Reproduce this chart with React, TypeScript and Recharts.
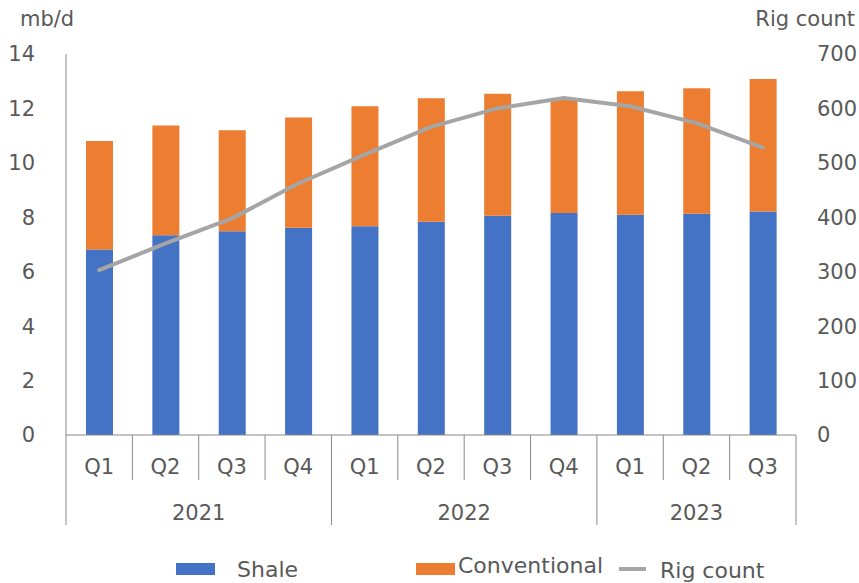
import React from "react"
import { ComposedChart, Bar, Line, XAxis, YAxis } from "recharts"

const quarters = ["Q1", "Q2", "Q3", "Q4", "Q1", "Q2", "Q3", "Q4", "Q1", "Q2", "Q3"]
const years = ["2021", "2021", "2021", "2021", "2022", "2022", "2022", "2022", "2023", "2023", "2023"]
const shale = [6.82, 7.34, 7.49, 7.62, 7.67, 7.84, 8.06, 8.16, 8.09, 8.13, 8.21]
const conventional = [3.98, 4.03, 3.71, 4.05, 4.41, 4.53, 4.48, 4.19, 4.54, 4.61, 4.87]
const rigCount = [303, 352, 398, 462, 515, 566, 600, 619, 604, 573, 528]
const leftTicks = [0, 2, 4, 6, 8, 10, 12, 14]
const rightTicks = [0, 100, 200, 300, 400, 500, 600, 700]
const seriesNames = ["Shale", "Conventional", "Rig count"]

const W = 859
const H = 583
const LEFT_W = 66
const RIGHT_W = 63
const PLOT_W = W - LEFT_W - RIGHT_W
const FONT = "'DejaVu Sans', Verdana, sans-serif"
const TEXT = "#595959"
const AXIS = "#898989"
const BLUE = "#4472C4"
const ORANGE = "#ED7D31"
const GRAY = "#A5A5A5"

const data = quarters.map((q, i) => ({
  key: `${years[i]} ${q}`,
  quarter: q,
  year: years[i],
  shale: shale[i],
  conventional: conventional[i],
  rigs: rigCount[i],
}))

// two-level category axis: quarter row + year row
function CategoryTick(props: any) {
  const { x, y, index } = props
  const band = PLOT_W / data.length
  const half = band / 2
  const row = data[index]
  if (!row) return null
  const left = x - half
  const newYear = index === 0 || data[index - 1].year !== row.year
  const last = index === data.length - 1
  let yearLabel = null
  if (newYear) {
    const count = data.filter((d) => d.year === row.year).length
    yearLabel = (
      <text x={left + count * half} y={y + 85} textAnchor="middle" fill={TEXT} fontSize={21} fontFamily={FONT}>
        {row.year}
      </text>
    )
  }
  return (
    <g>
      <line x1={left} x2={left} y1={y} y2={y + (newYear ? 90 : 45)} stroke={AXIS} strokeWidth={1} />
      {last && <line x1={x + half} x2={x + half} y1={y} y2={y + 90} stroke={AXIS} strokeWidth={1} />}
      <text x={x} y={y + 39} textAnchor="middle" fill={TEXT} fontSize={21} fontFamily={FONT}>
        {row.quarter}
      </text>
      {yearLabel}
    </g>
  )
}

export default function App() {
  const tickStyle = { fill: TEXT, fontSize: 21, fontFamily: FONT }
  return (
    <div style={{ position: "absolute", left: 0, top: 0, width: W, height: H, background: "#fff", fontFamily: FONT }}>
      <ComposedChart width={W} height={H} data={data} margin={{ top: 54, right: 0, bottom: 48, left: 0 }}>
        <XAxis
          dataKey="key"
          height={100}
          interval={0}
          tickLine={false}
          tickSize={0}
          tickMargin={0}
          axisLine={{ stroke: AXIS, strokeWidth: 1 }}
          tick={<CategoryTick />}
        />
        <YAxis
          yAxisId="left"
          width={LEFT_W}
          domain={[0, 14]}
          ticks={leftTicks}
          tickLine={false}
          tickSize={0}
          tickMargin={31}
          axisLine={{ stroke: AXIS, strokeWidth: 1 }}
          tick={tickStyle}
        />
        <YAxis
          yAxisId="right"
          orientation="right"
          width={RIGHT_W}
          domain={[0, 700]}
          ticks={rightTicks}
          tickLine={false}
          tickSize={0}
          tickMargin={21}
          axisLine={false}
          tick={tickStyle}
        />
        <Bar yAxisId="left" dataKey="shale" name={seriesNames[0]} stackId="a" fill={BLUE} barSize={27} isAnimationActive={false} />
        <Bar yAxisId="left" dataKey="conventional" name={seriesNames[1]} stackId="a" fill={ORANGE} barSize={27} isAnimationActive={false} />
        <Line
          yAxisId="right"
          dataKey="rigs"
          name={seriesNames[2]}
          type="linear"
          stroke={GRAY}
          strokeWidth={4}
          strokeLinecap="round"
          strokeLinejoin="round"
          dot={false}
          isAnimationActive={false}
        />
      </ComposedChart>
      <svg width={W} height={H} style={{ position: "absolute", left: 0, top: 0, pointerEvents: "none" }}>
        <text x={20} y={26} fill={TEXT} fontSize={21} fontFamily={FONT}>mb/d</text>
        <text x={855} y={26} textAnchor="end" fill={TEXT} fontSize={21} fontFamily={FONT}>Rig count</text>
        <rect x={176} y={563} width={39} height={12} fill={BLUE} />
        <text x={237} y={577} fill={TEXT} fontSize={22} fontFamily={FONT}>{seriesNames[0]}</text>
        <rect x={416} y={563} width={39} height={12} fill={ORANGE} />
        <text x={458} y={573} fill={TEXT} fontSize={22} fontFamily={FONT}>{seriesNames[1]}</text>
        <line x1={619} x2={646} y1={569} y2={569} stroke={GRAY} strokeWidth={4} />
        <text x={660} y={578} fill={TEXT} fontSize={22} fontFamily={FONT}>{seriesNames[2]}</text>
      </svg>
    </div>
  )
}
